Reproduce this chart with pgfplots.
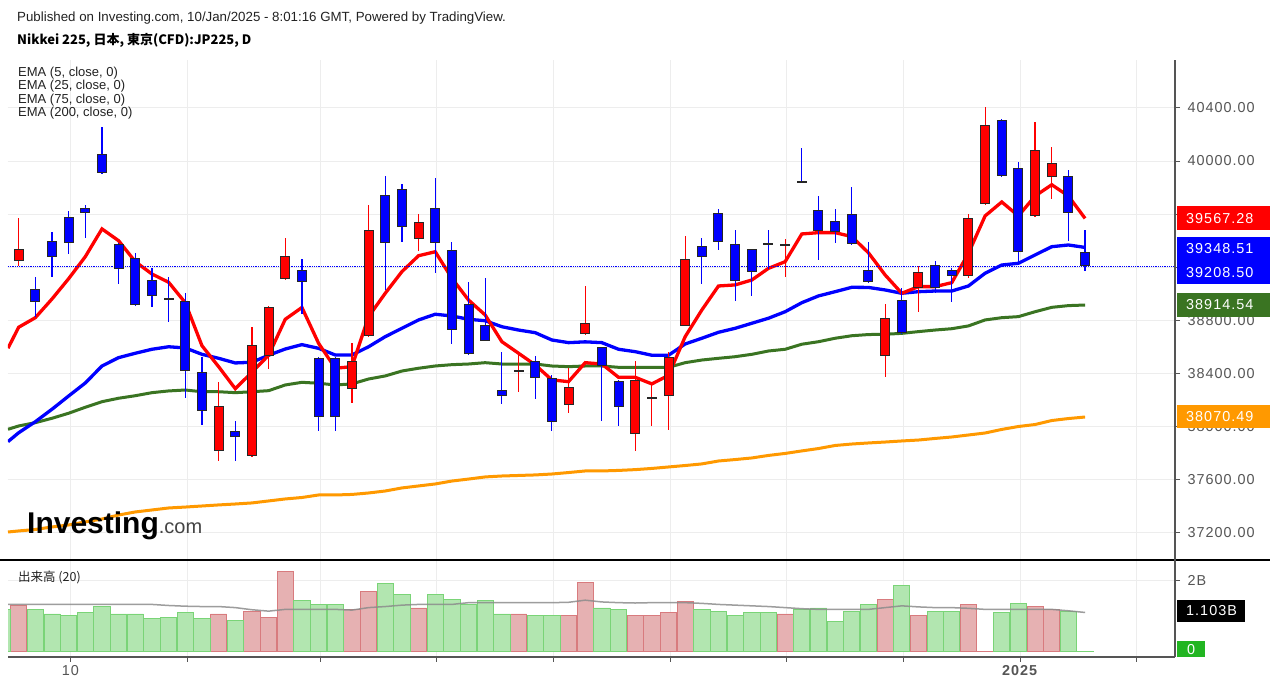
\documentclass[border=0pt]{standalone}
\usepackage{pgfplots}
\pgfplotsset{compat=1.18}
\usepackage{pgfplotstable}
\usepackage{fontspec}
\setmainfont{Liberation Sans}
\newfontfamily\cjk{Noto Sans CJK JP}
\newfontfamily\tickfont{Liberation Sans}[LetterSpace=7]
\newcommand\tf{\tickfont\fontsize{14.4}{16}\selectfont}

\definecolor{emared}{HTML}{FF0000}
\definecolor{emablue}{HTML}{0000FF}
\definecolor{emagreen}{HTML}{3A7422}
\definecolor{emaorange}{HTML}{FF9900}
\definecolor{gridc}{HTML}{EDEDED}
\definecolor{axisc}{HTML}{555555}
\definecolor{volr}{HTML}{E6B1B2}
\definecolor{volrd}{HTML}{D87B7E}
\definecolor{volg}{HTML}{B2E6B0}
\definecolor{volgd}{HTML}{7AD477}
\definecolor{zerog}{HTML}{22B522}
\definecolor{logogray}{HTML}{444444}
\definecolor{txt}{HTML}{222222}

% up candles (red): index, open, high, low, close
\pgfplotstableread{
i o h l c
0 39244 39568 39211 39337
12 37817 38332 37741 38151
14 37777 38751 37770 38611
15 38533 38907 38430 38900
16 39108 39420 39105 39282
20 38284 38628 38178 38490
21 38681 39668 38675 39482
24 39414 39598 39322 39540
30 38415 38558 38259 38415
33 38159 38438 38099 38297
34 38694 39058 38690 38781
37 37943 38493 37817 38352
38 38216 38320 38005 38216
39 38227 38563 37975 38521
40 38759 39433 38755 39259
46 39365 39410 39128 39365
52 38533 38922 38375 38817
54 39041 39211 38860 39166
57 39133 39601 39116 39573
58 39676 40405 39670 40274
61 39586 40292 39580 40083
62 39877 40108 39716 39983
}\upc

% down candles (blue)
\pgfplotstableread{
i o h l c
1 39033 39126 38827 38940
2 39395 39465 39128 39279
3 39576 39623 39297 39380
4 39644 39668 39422 39606
5 40050 40258 39905 39912
6 39372 39380 39071 39188
7 39269 39304 38910 38917
8 39101 39194 38902 38985
9 38960 39126 38789 38960
10 38943 39003 38212 38420
11 38408 38525 38010 38116
13 37968 38041 37741 37922
17 39179 39261 38847 39086
18 38513 38520 37965 38068
19 38513 38525 37965 38068
22 39744 39887 39028 39380
23 39789 39827 39392 39505
25 39644 39872 39154 39380
26 39327 39387 38621 38726
27 38920 39090 38540 38546
28 38764 39116 38640 38646
29 38277 38558 38167 38227
31 38490 38533 38204 38362
32 38362 38387 37965 38035
35 38595 38600 38043 38453
36 38344 38350 38005 38148
41 39359 39420 39071 39279
42 39608 39636 39329 39392
43 39372 39478 38947 39098
44 39335 39339 38983 39166
45 39377 39478 39184 39377
47 39842 40098 39832 39842
48 39628 39734 39254 39472
49 39550 39636 39380 39463
50 39598 39802 39368 39372
51 39179 39387 39082 39086
53 38952 39045 38698 38702
55 39214 39249 39008 39041
56 39179 39191 38940 39133
59 40310 40319 39877 39887
60 39945 39995 39237 39314
63 39889 39930 39399 39606
64 39312 39478 39173 39208.5
}\downc

% EMA lines
\pgfplotstableread{
i e5 e25 e75 e200
-0.64 38589 37885 37978 37204
0 38747 37952 38003 37212
1 38819 38035 38028 37223
2 38960 38129 38061 37242
3 39113 38229 38099 37257
4 39279 38327 38144 37280
5 39488 38455 38186 37302
6 39399 38518 38212 37332
7 39241 38551 38231 37355
8 39148 38581 38254 37370
9 39086 38600 38267 37385
10 38932 38591 38274 37392
11 38608 38543 38261 37400
12 38450 38513 38261 37408
13 38284 38478 38254 37415
14 38408 38483 38261 37423
15 38536 38536 38269 37438
16 38807 38583 38312 37453
17 38896 38616 38332 37464
18 38626 38588 38325 37483
19 38438 38538 38312 37483
20 38450 38538 38320 37487
21 38827 38600 38357 37498
22 39003 38676 38380 37513
23 39166 38739 38417 37536
24 39286 38802 38438 37551
25 39316 38845 38455 37566
26 39116 38832 38465 37588
27 38952 38807 38470 37603
28 38839 38796 38480 37619
29 38638 38751 38470 37626
30 38551 38726 38470 37630
31 38463 38706 38470 37634
32 38350 38651 38455 37641
33 38337 38631 38450 37652
34 38480 38637 38455 37664
35 38470 38631 38455 37664
36 38370 38581 38445 37668
37 38370 38563 38445 37674
38 38320 38536 38445 37683
39 38385 38536 38445 37694
40 38676 38621 38480 37705
41 38877 38664 38500 37717
42 39058 38709 38513 37739
43 39066 38739 38525 37750
44 39103 38777 38543 37762
45 39191 38815 38568 37781
46 39241 38864 38581 37796
47 39450 38932 38619 37815
48 39460 38983 38638 37833
49 39460 39015 38664 37856
50 39430 39048 38683 37867
51 39308 39047 38692 37875
52 39141 39028 38694 37882
53 39003 39003 38701 37890
54 39053 39015 38714 37897
55 39053 39020 38726 37909
56 39083 39020 38736 37920
57 39304 39058 38757 37935
58 39586 39154 38802 37950
59 39691 39216 38819 37977
60 39586 39229 38827 37999
61 39736 39292 38864 38014
62 39821 39354 38897 38044
63 39736 39367 38910 38059
64 39567.28 39348.51 38914.54 38070.49
}\ema

% volume (billions), up days
\pgfplotstableread{
i v
0 1.29
12 1.06
14 1.14
15 0.97
16 2.25
20 1.19
21 1.70
24 1.23
30 1.06
33 1.02
34 1.95
37 1.02
38 1.02
39 1.11
40 1.41
46 1.06
52 1.48
54 1.02
57 1.32
58 0.01
61 1.28
62 1.19
}\volup

% volume, down days
\pgfplotstableread{
i v
-1 1.19
1 1.19
2 1.06
3 1.02
4 1.11
5 1.28
6 1.06
7 1.06
8 0.94
9 0.97
10 1.11
11 0.94
13 0.89
17 1.45
18 1.32
19 1.32
22 1.92
23 1.61
25 1.61
26 1.48
27 1.32
28 1.45
29 1.06
31 1.02
32 1.02
35 1.23
36 1.19
41 1.19
42 1.14
43 1.02
44 1.11
45 1.11
47 1.19
48 1.23
49 0.85
50 1.14
51 1.32
53 1.87
55 1.14
56 1.14
59 1.11
60 1.36
63 1.14
64 0.01
}\voldn

% volume MA(20)
\pgfplotstableread{
i m
-0.64 1.33
0 1.33
2 1.33
4 1.33
6 1.33
8 1.33
9 1.30
10 1.28
11 1.27
12 1.27
13 1.24
14 1.18
15 1.14
16 1.19
17 1.19
18 1.19
19 1.19
20 1.17
21 1.24
22 1.27
23 1.31
24 1.33
25 1.33
26 1.33
27 1.38
28 1.38
29 1.38
30 1.38
31 1.38
32 1.38
33 1.39
34 1.45
35 1.40
36 1.38
37 1.37
38 1.38
39 1.38
40 1.38
41 1.36
42 1.33
43 1.31
44 1.29
45 1.27
46 1.24
47 1.21
48 1.19
49 1.19
50 1.19
51 1.19
52 1.24
53 1.29
54 1.26
55 1.24
56 1.24
57 1.22
58 1.19
59 1.19
60 1.19
61 1.19
62 1.19
63 1.15
64 1.103
}\volma

\begin{document}
\begin{tikzpicture}
\path[use as bounding box, fill=white] (0pt,0pt) rectangle (1270pt,691pt);

% ---------- main price panel ----------
\begin{axis}[
  at={(8pt,131pt)}, anchor=south west,
  width=1167pt, height=500pt, scale only axis,
  xmin=-0.64, xmax=69.4, ymin=36993, ymax=40761,
  axis line style={draw=none},
  xtick={3.1,10.1,18.1,25.1,32.1,39.1,46.1,53.1,60.1,67.1},
  xticklabels={},
  xtick style={draw=none},
  ytick={37200,37600,38000,38400,38800,39200,39600,40000,40400},
  scaled y ticks=false,
  ytick pos=right, yticklabel pos=right,
  tick align=outside, major tick length=5pt,
  ytick style={axisc, line width=0.8pt},
  grid=major, grid style={gridc, line width=0.9pt},
  yticklabel style={font=\tf, text=axisc, anchor=west, xshift=4pt,
    /pgf/number format/fixed, /pgf/number format/fixed zerofill,
    /pgf/number format/precision=2, /pgf/number format/1000 sep={},
    /pgf/number format/assume math mode=true},
]
\addplot[emaorange, line width=3pt] table[x=i,y=e200]{\ema};
\addplot[emagreen, line width=3pt] table[x=i,y=e75]{\ema};
\addplot[emablue, line width=3.3pt] table[x=i,y=e25]{\ema};
\addplot[emared, line width=3.3pt] table[x=i,y=e5]{\ema};
\addplot[emablue, densely dotted, line width=0.8pt] coordinates {(-0.64,39208.5) (69.4,39208.5)};
% wicks
\addplot[draw=none, error bars/.cd, y dir=both, y explicit, error mark=none,
  error bar style={draw=emared, line width=1.2pt}]
  table[x=i, y expr={(\thisrow{h}+\thisrow{l})/2}, y error expr={(\thisrow{h}-\thisrow{l})/2}]{\upc};
\addplot[draw=none, error bars/.cd, y dir=both, y explicit, error mark=none,
  error bar style={draw=emablue, line width=1.2pt}]
  table[x=i, y expr={(\thisrow{h}+\thisrow{l})/2}, y error expr={(\thisrow{h}-\thisrow{l})/2}]{\downc};
% bodies: outline
\addplot[draw=none, error bars/.cd, y dir=both, y explicit, error mark=none,
  error bar style={draw=black!85, line width=10pt}]
  table[x=i, y expr={(\thisrow{o}+\thisrow{c})/2}, y error expr={max(abs(\thisrow{o}-\thisrow{c})/2,6.5)}]{\upc};
\addplot[draw=none, error bars/.cd, y dir=both, y explicit, error mark=none,
  error bar style={draw=black!85, line width=10pt}]
  table[x=i, y expr={(\thisrow{o}+\thisrow{c})/2}, y error expr={max(abs(\thisrow{o}-\thisrow{c})/2,6.5)}]{\downc};
% bodies: fill
\addplot[draw=none, error bars/.cd, y dir=both, y explicit, error mark=none,
  error bar style={draw=emared, line width=8pt}]
  table[x=i, y expr={(\thisrow{o}+\thisrow{c})/2}, y error expr={max(abs(\thisrow{o}-\thisrow{c})/2-7.5,0)}]{\upc};
\addplot[draw=none, error bars/.cd, y dir=both, y explicit, error mark=none,
  error bar style={draw=emablue, line width=8pt}]
  table[x=i, y expr={(\thisrow{o}+\thisrow{c})/2}, y error expr={max(abs(\thisrow{o}-\thisrow{c})/2-7.5,0)}]{\downc};
\end{axis}

% ---------- volume panel ----------
\begin{axis}[
  at={(8pt,34pt)}, anchor=south west,
  width=1167pt, height=97pt, scale only axis,
  xmin=-0.64, xmax=69.4, ymin=-0.155, ymax=2.585,
  axis line style={draw=none},
  xtick={3.1,10.1,18.1,25.1,32.1,39.1,46.1,53.1,60.1,67.1},
  xticklabels={10,,,,,,,,\textbf{2025},},
  xtick pos=bottom, ytick pos=right, yticklabel pos=right,
  tick align=outside, major tick length=5pt,
  tick style={axisc, line width=0.8pt},
  ytick={2}, yticklabels={2B}, scaled y ticks=false,
  grid=major, grid style={gridc, line width=0.9pt},
  yticklabel style={font=\tf, text=axisc, anchor=west, xshift=4pt},
  xticklabel style={font=\tf, text=axisc},
]
\addplot[ybar, bar width=0.97, bar shift=0pt, fill=volr, draw=volrd, line width=0.8pt] table[x=i,y=v]{\volup};
\addplot[ybar, bar width=0.97, bar shift=0pt, fill=volg, draw=volgd, line width=0.8pt] table[x=i,y=v]{\voldn};
\addplot[black!45, opacity=0.85, line width=1.5pt] table[x=i,y=m]{\volma};
\end{axis}

% frame lines
\draw[black, line width=2pt] (0pt,131pt) -- (1270pt,131pt);
\draw[axisc, line width=1.5pt] (1175pt,34pt) -- (1175pt,631pt);
\draw[axisc, line width=2pt] (8pt,34pt) -- (1175pt,34pt);

% price labels on the right scale
\fill[emared] (1177pt,461pt) rectangle (1272pt,484.5pt);
\node[anchor=west, text=white, font=\tf, inner sep=0] at (1186pt,472.6pt) {39567.28};
\fill[emablue] (1177pt,407pt) rectangle (1272pt,454.3pt);
\node[anchor=west, text=white, font=\tf, inner sep=0] at (1186pt,442.4pt) {39348.51};
\node[anchor=west, text=white, font=\tf, inner sep=0] at (1186pt,418.6pt) {39208.50};
\fill[emagreen] (1177pt,374pt) rectangle (1272pt,398pt);
\node[anchor=west, text=white, font=\tf, inner sep=0] at (1186pt,386pt) {38914.54};
\fill[emaorange] (1177pt,263pt) rectangle (1272pt,286pt);
\node[anchor=west, text=white, font=\tf, inner sep=0] at (1186pt,274.5pt) {38070.49};
% volume labels
\fill[black] (1177pt,69pt) rectangle (1245pt,91pt);
\node[anchor=west, text=white, font=\tf, inner sep=0] at (1186pt,80pt) {1.103B};
\fill[zerog] (1177pt,34pt) rectangle (1205pt,50pt);
\node[text=white, font=\tf, inner sep=0] at (1191pt,41pt) {0};

% header text
\node[anchor=base west, inner sep=0, text=txt, font=\fontsize{13.3}{15}\selectfont] at (17pt,669pt)
  {Published on Investing.com, 10/Jan/2025 - 8:01:16 GMT, Powered by TradingView.};
\node[anchor=base west, inner sep=0, text=black, font=\cjk\bfseries\fontsize{13}{15}\selectfont] at (17pt,646pt)
  {Nikkei 225, 日本, 東京(CFD):JP225, D};
\node[anchor=base west, inner sep=0, text=txt, font=\fontsize{13}{15}\selectfont] at (18pt,614.5pt) {EMA (5, close, 0)};
\node[anchor=base west, inner sep=0, text=txt, font=\fontsize{13}{15}\selectfont] at (18pt,601pt) {EMA (25, close, 0)};
\node[anchor=base west, inner sep=0, text=txt, font=\fontsize{13}{15}\selectfont] at (18pt,587.5pt) {EMA (75, close, 0)};
\node[anchor=base west, inner sep=0, text=txt, font=\fontsize{13}{15}\selectfont] at (18pt,574pt) {EMA (200, close, 0)};
\node[anchor=base west, inner sep=0, text=txt, font=\cjk\fontsize{12.5}{14}\selectfont] at (18pt,109pt) {出来高 (20)};
% logo
\node[anchor=base west, inner sep=0] at (27pt,157pt)
  {\fontsize{30}{30}\selectfont\bfseries Investing\fontsize{20}{20}\selectfont\mdseries\color{logogray}.com};
\end{tikzpicture}
\end{document}
